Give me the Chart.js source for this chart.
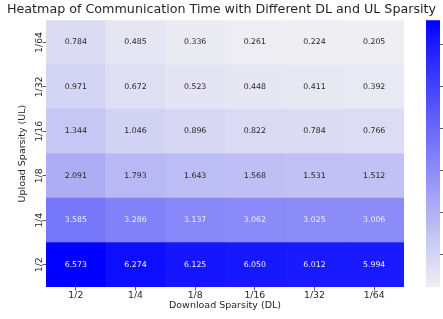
<!DOCTYPE html>
<html>
<head>
<meta charset="utf-8">
<script src="https://cdn.jsdelivr.net/npm/chart.js@4/dist/chart.umd.min.js"></script>
<style>
html,body{margin:0;padding:0;background:#fff;}
#wrap{width:443px;height:319px;}
</style>
</head>
<body>
<div id="wrap"><canvas id="c" width="443" height="319"></canvas></div>
<script>
// Download sparsity (columns, left to right)
const dlLabels = ['1/2', '1/4', '1/8', '1/16', '1/32', '1/64'];
// Upload sparsity (rows, bottom to top)
const ulLabels = ['1/2', '1/4', '1/8', '1/16', '1/32', '1/64'];
// Communication time per UL row, across DL columns
const ul_1_2  = [6.573, 6.274, 6.125, 6.050, 6.012, 5.994];
const ul_1_4  = [3.585, 3.286, 3.137, 3.062, 3.025, 3.006];
const ul_1_8  = [2.091, 1.793, 1.643, 1.568, 1.531, 1.512];
const ul_1_16 = [1.344, 1.046, 0.896, 0.822, 0.784, 0.766];
const ul_1_32 = [0.971, 0.672, 0.523, 0.448, 0.411, 0.392];
const ul_1_64 = [0.784, 0.485, 0.336, 0.261, 0.224, 0.205];
const colorbarTicks = [1, 2, 3, 4, 5, 6];

const rows = [ul_1_2, ul_1_4, ul_1_8, ul_1_16, ul_1_32, ul_1_64];
const allVals = rows.flat();
const vmin = Math.min(...allVals), vmax = Math.max(...allVals);
const LO = [239, 239, 243], HI = [0, 0, 255];
function mixT(t){ const k = Math.pow(1 - t, 0.92); return LO.map((l,i)=>Math.round(HI[i] + (l - HI[i]) * k)); }
function rgbT(t){ const c = mixT(t); return `rgb(${c[0]},${c[1]},${c[2]})`; }
function norm(v){ return (v - vmin) / (vmax - vmin); }
function colorFor(v){ return rgbT(norm(v)); }
function lum(v){ const c = mixT(norm(v)).map(x=>{x/=255;return x<=0.03928?x/12.92:Math.pow((x+0.055)/1.055,2.4);}); return 0.2126*c[0]+0.7152*c[1]+0.0722*c[2]; }

Chart.defaults.font.family = "'DejaVu Sans', sans-serif";
Chart.defaults.color = '#262626';

const datasets = rows.map((vals, r) => ({
  label: ulLabels[r],
  data: vals.map(() => [r, r + 1]),
  values: vals,
  backgroundColor: vals.map(colorFor),
  borderWidth: 0,
  grouped: false,
  barPercentage: 1,
  categoryPercentage: 1
}));

const annotPlugin = {
  id: 'annot',
  afterDatasetsDraw(chart){
    const ctx = chart.ctx;
    ctx.save();
    ctx.font = "7.8px 'DejaVu Sans'";
    ctx.textAlign = 'center';
    ctx.textBaseline = 'middle';
    chart.data.datasets.forEach((ds, di) => {
      const meta = chart.getDatasetMeta(di);
      meta.data.forEach((el, i) => {
        const v = ds.values[i];
        ctx.fillStyle = lum(v) > 0.408 ? '#262626' : '#eeeeff';
        ctx.fillText(v.toFixed(3), el.x, (el.y + el.base) / 2);
      });
    });
    ctx.restore();
  }
};

const colorbarPlugin = {
  id: 'colorbar',
  afterDraw(chart){
    const ctx = chart.ctx, cb = chart.scales.cbar;
    const x0 = 426, x1 = 440;
    const yTop = cb.getPixelForValue(vmax), yBot = cb.getPixelForValue(vmin);
    const g = ctx.createLinearGradient(0, yBot, 0, yTop);
    for (let i = 0; i <= 20; i++) g.addColorStop(i / 20, rgbT(i / 20));
    ctx.save();
    ctx.fillStyle = g;
    ctx.fillRect(x0, yTop, x1 - x0, yBot - yTop);
    ctx.strokeStyle = '#333';
    ctx.lineWidth = 0.8;
    colorbarTicks.forEach(v => {
      const y = Math.round(cb.getPixelForValue(v)) + 0.5;
      ctx.beginPath();
      ctx.moveTo(x1, y); ctx.lineTo(x1 + 3.5, y);
      ctx.stroke();
    });
    ctx.restore();
  }
};

new Chart(document.getElementById('c'), {
  type: 'bar',
  data: { labels: dlLabels, datasets },
  options: {
    responsive: false,
    animation: false,
    layout: { padding: 0 },
    plugins: {
      legend: { display: false },
      tooltip: { enabled: false },
      title: {
        display: true,
        text: 'Heatmap of Communication Time with Different DL and UL Sparsity',
        font: { size: 12.7, weight: 'normal' },
        color: '#262626',
        padding: { top: 2, bottom: 3 }
      }
    },
    scales: {
      x: {
        type: 'category',
        offset: true,
        afterFit(axis){ axis.height = 32; },
        grid: { display: true, drawOnChartArea: false, drawTicks: true, tickLength: 3.5, color: '#333', offset: false, lineWidth: 0.8 },
        border: { display: false },
        ticks: { font: { size: 9.3 }, padding: 0, color: '#262626' },
        title: { display: true, text: 'Download Sparsity (DL)', font: { size: 9.5 }, color: '#262626', padding: { top: 0, bottom: 7.3 } }
      },
      y: {
        type: 'linear',
        min: 0, max: 6,
        afterFit(axis){ axis.width = 46; },
        afterBuildTicks(axis){ axis.ticks = ulLabels.map((_, i) => ({ value: i + 0.5 })); },
        grid: { display: true, drawOnChartArea: false, drawTicks: true, tickLength: 3.5, color: '#333', lineWidth: 0.8 },
        border: { display: false },
        ticks: {
          font: { size: 9.3 }, padding: -7.3, color: '#262626',
          minRotation: 90, maxRotation: 90, crossAlign: 'center',
          callback: (v) => ulLabels[Math.floor(v)]
        },
        title: { display: true, text: 'Upload Sparsity (UL)', font: { size: 9.5 }, color: '#262626', padding: { top: 17.3, bottom: 0 } }
      },
      cbar: {
        type: 'linear',
        position: 'right',
        min: vmin, max: vmax,
        afterFit(axis){ axis.width = 39; },
        afterBuildTicks(axis){ axis.ticks = colorbarTicks.map(v => ({ value: v })); },
        grid: { display: false },
        border: { display: false },
        ticks: { display: false }
      }
    }
  },
  plugins: [annotPlugin, colorbarPlugin]
});
</script>
</body>
</html>
